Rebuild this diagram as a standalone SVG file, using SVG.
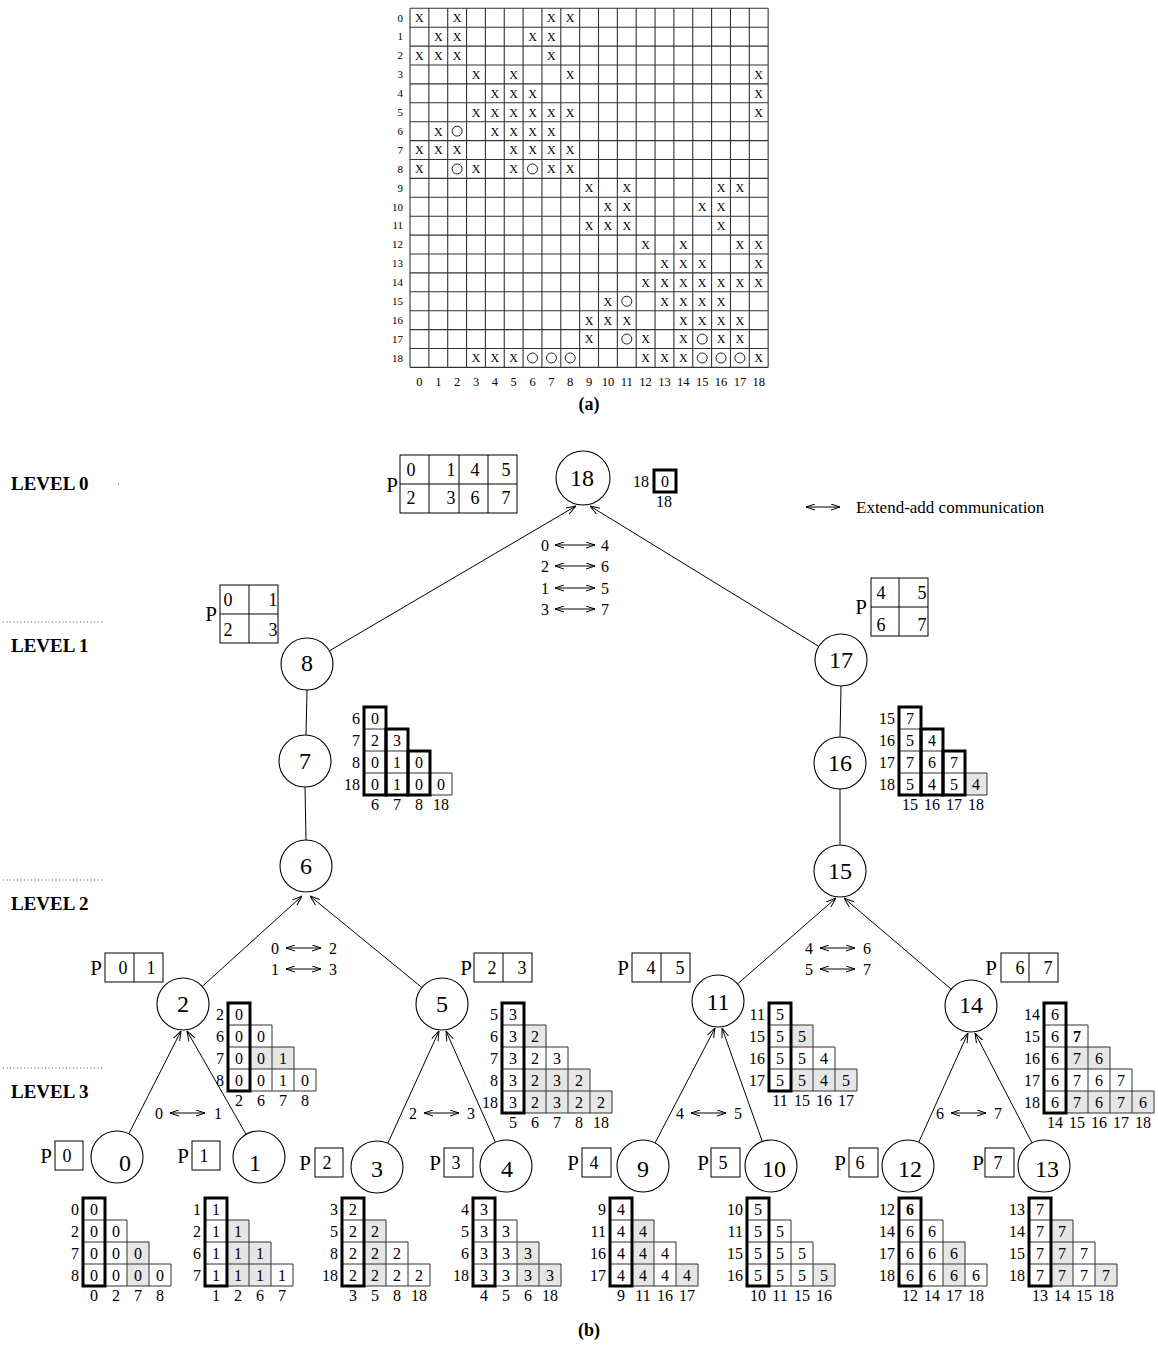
<svg xmlns="http://www.w3.org/2000/svg" xmlns:xlink="http://www.w3.org/1999/xlink" width="1158" height="1351" viewBox="0 0 1158 1351">
<style>
text{font-family:"Liberation Serif","Times New Roman",serif;fill:#000}
.lv{font-weight:bold;font-size:19px}
.cap{font-weight:bold;font-size:18px;text-anchor:middle}
.nd{font-size:24px;text-anchor:middle}
.c{font-size:16px;text-anchor:middle}
.rl{font-size:16px;text-anchor:end}
.pd{font-size:18px;text-anchor:middle}
.pp{font-size:21px;text-anchor:middle}
.x{font-family:"Liberation Sans",Arial,sans-serif;font-size:12px;text-anchor:middle;fill:#222}
.ml{font-size:11px;text-anchor:end}
.mc{font-size:12.5px;text-anchor:middle}
.grid{fill:none;stroke:#333;stroke-width:1.1}
.cell{fill:none;stroke:#333;stroke-width:1}
.g{fill:#e6e6e6}
.thick{fill:none;stroke:#000;stroke-width:3}
.node{fill:#fff;stroke:#000;stroke-width:1.1}
.box{fill:#fff;stroke:#000;stroke-width:1}
.edge{stroke:#000;stroke-width:1;fill:none}
.dot{stroke:#555;stroke-width:1;stroke-dasharray:1 2.5}
.oc{fill:none;stroke:#222;stroke-width:1}
</style>
<defs>
<marker id="ah" viewBox="0 0 10 8" refX="10" refY="4" markerWidth="10" markerHeight="8" markerUnits="userSpaceOnUse" orient="auto"><path d="M0,0.5L10,4L0,7.5" fill="none" stroke="#000" stroke-width="1"/></marker>
<marker id="dh" viewBox="0 0 9 7" refX="9" refY="3.5" markerWidth="9" markerHeight="7" markerUnits="userSpaceOnUse" orient="auto-start-reverse"><path d="M0,0.5L9,3.5L0,6.5" fill="none" stroke="#000" stroke-width="1"/></marker>
<path id="tri4" class="cell" d="M0,0H22M0,22H44M0,44H66M0,66H88M0,88H88M0,0V88M22,0V88M44,22V88M66,44V88M88,66V88"/>
<path id="tri5" class="cell" d="M0,0H22M0,22H44M0,44H66M0,66H88M0,88H110M0,110H110M0,0V110M22,0V110M44,22V110M66,44V110M88,66V110M110,88V110"/>
</defs>
<rect width="1158" height="1351" fill="#fff"/>

<!-- (a) matrix -->
<g id="matrix-a">
<path class="grid" d="M410,8.3V367.4M428.85,8.3V367.4M447.7,8.3V367.4M466.55,8.3V367.4M485.4,8.3V367.4M504.25,8.3V367.4M523.1,8.3V367.4M541.95,8.3V367.4M560.8,8.3V367.4M579.65,8.3V367.4M598.5,8.3V367.4M617.35,8.3V367.4M636.2,8.3V367.4M655.05,8.3V367.4M673.9,8.3V367.4M692.75,8.3V367.4M711.6,8.3V367.4M730.45,8.3V367.4M749.3,8.3V367.4M768.15,8.3V367.4M410,8.3H768.15M410,27.2H768.15M410,46.1H768.15M410,65H768.15M410,83.9H768.15M410,102.8H768.15M410,121.7H768.15M410,140.6H768.15M410,159.5H768.15M410,178.4H768.15M410,197.3H768.15M410,216.2H768.15M410,235.1H768.15M410,254H768.15M410,272.9H768.15M410,291.8H768.15M410,310.7H768.15M410,329.6H768.15M410,348.5H768.15M410,367.4H768.15"/>
<g class="ml">
<text x="403" y="21.5">0</text><text x="403" y="40.4">1</text><text x="403" y="59.3">2</text><text x="403" y="78.2">3</text><text x="403" y="97.1">4</text><text x="403" y="116">5</text><text x="403" y="134.9">6</text><text x="403" y="153.8">7</text><text x="403" y="172.7">8</text><text x="403" y="191.6">9</text><text x="403" y="210.5">10</text><text x="403" y="229.4">11</text><text x="403" y="248.3">12</text><text x="403" y="267.2">13</text><text x="403" y="286.1">14</text><text x="403" y="305">15</text><text x="403" y="323.9">16</text><text x="403" y="342.8">17</text><text x="403" y="361.7">18</text>
</g>
<g class="mc">
<text x="419.4" y="386">0</text><text x="438.3" y="386">1</text><text x="457.1" y="386">2</text><text x="476" y="386">3</text><text x="494.8" y="386">4</text><text x="513.7" y="386">5</text><text x="532.5" y="386">6</text><text x="551.4" y="386">7</text><text x="570.2" y="386">8</text><text x="589.1" y="386">9</text><text x="607.9" y="386">10</text><text x="626.8" y="386">11</text><text x="645.6" y="386">12</text><text x="664.5" y="386">13</text><text x="683.3" y="386">14</text><text x="702.2" y="386">15</text><text x="721" y="386">16</text><text x="739.9" y="386">17</text><text x="758.7" y="386">18</text>
</g>
<g class="x">
<g transform="translate(0,22.1)"><text x="419.4">X</text><text x="457.1">X</text><text x="551.4">X</text><text x="570.2">X</text></g>
<g transform="translate(0,41)"><text x="438.3">X</text><text x="457.1">X</text><text x="532.5">X</text><text x="551.4">X</text></g>
<g transform="translate(0,59.9)"><text x="419.4">X</text><text x="438.3">X</text><text x="457.1">X</text><text x="551.4">X</text></g>
<g transform="translate(0,78.8)"><text x="476">X</text><text x="513.7">X</text><text x="570.2">X</text><text x="758.7">X</text></g>
<g transform="translate(0,97.7)"><text x="494.8">X</text><text x="513.7">X</text><text x="532.5">X</text><text x="758.7">X</text></g>
<g transform="translate(0,116.6)"><text x="476">X</text><text x="494.8">X</text><text x="513.7">X</text><text x="532.5">X</text><text x="551.4">X</text><text x="570.2">X</text><text x="758.7">X</text></g>
<g transform="translate(0,135.5)"><text x="438.3">X</text><text x="494.8">X</text><text x="513.7">X</text><text x="532.5">X</text><text x="551.4">X</text></g>
<g transform="translate(0,154.4)"><text x="419.4">X</text><text x="438.3">X</text><text x="457.1">X</text><text x="513.7">X</text><text x="532.5">X</text><text x="551.4">X</text><text x="570.2">X</text></g>
<g transform="translate(0,173.3)"><text x="419.4">X</text><text x="476">X</text><text x="513.7">X</text><text x="551.4">X</text><text x="570.2">X</text></g>
<g transform="translate(0,192.2)"><text x="589.1">X</text><text x="626.8">X</text><text x="721">X</text><text x="739.9">X</text></g>
<g transform="translate(0,211.1)"><text x="607.9">X</text><text x="626.8">X</text><text x="702.2">X</text><text x="721">X</text></g>
<g transform="translate(0,230)"><text x="589.1">X</text><text x="607.9">X</text><text x="626.8">X</text><text x="721">X</text></g>
<g transform="translate(0,248.9)"><text x="645.6">X</text><text x="683.3">X</text><text x="739.9">X</text><text x="758.7">X</text></g>
<g transform="translate(0,267.8)"><text x="664.5">X</text><text x="683.3">X</text><text x="702.2">X</text><text x="758.7">X</text></g>
<g transform="translate(0,286.7)"><text x="645.6">X</text><text x="664.5">X</text><text x="683.3">X</text><text x="702.2">X</text><text x="721">X</text><text x="739.9">X</text><text x="758.7">X</text></g>
<g transform="translate(0,305.6)"><text x="607.9">X</text><text x="664.5">X</text><text x="683.3">X</text><text x="702.2">X</text><text x="721">X</text></g>
<g transform="translate(0,324.5)"><text x="589.1">X</text><text x="607.9">X</text><text x="626.8">X</text><text x="683.3">X</text><text x="702.2">X</text><text x="721">X</text><text x="739.9">X</text></g>
<g transform="translate(0,343.4)"><text x="589.1">X</text><text x="645.6">X</text><text x="683.3">X</text><text x="721">X</text><text x="739.9">X</text></g>
<g transform="translate(0,362.3)"><text x="476">X</text><text x="494.8">X</text><text x="513.7">X</text><text x="645.6">X</text><text x="664.5">X</text><text x="683.3">X</text><text x="758.7">X</text></g>
</g>
<g>
<circle class="oc" cx="457.1" cy="131.15" r="5"/>
<circle class="oc" cx="457.1" cy="168.95" r="5"/><circle class="oc" cx="532.5" cy="168.95" r="5"/>
<circle class="oc" cx="626.8" cy="301.25" r="5"/>
<circle class="oc" cx="626.8" cy="339.05" r="5"/><circle class="oc" cx="702.2" cy="339.05" r="5"/>
<circle class="oc" cx="532.5" cy="357.95" r="5"/><circle class="oc" cx="551.4" cy="357.95" r="5"/><circle class="oc" cx="570.2" cy="357.95" r="5"/>
<circle class="oc" cx="702.2" cy="357.95" r="5"/><circle class="oc" cx="721" cy="357.95" r="5"/><circle class="oc" cx="739.9" cy="357.95" r="5"/>
</g>
<text class="cap" x="589" y="410">(a)</text>
</g>

<!-- level labels -->
<g id="levels">
<text class="lv" x="11" y="490">LEVEL 0</text>
<text class="lv" x="11" y="652">LEVEL 1</text>
<text class="lv" x="11" y="910">LEVEL 2</text>
<text class="lv" x="11" y="1098">LEVEL 3</text>
<line class="dot" x1="3" y1="622" x2="103" y2="622"/>
<line class="dot" x1="3" y1="880" x2="103" y2="880"/>
<line class="dot" x1="3" y1="1068" x2="103" y2="1068"/>
<line class="dot" x1="118" y1="484" x2="120" y2="484"/>
</g>

<!-- connectors -->
<g id="connectors">
<line class="edge" x1="307" y1="690" x2="306" y2="735"/>
<line class="edge" x1="305" y1="787" x2="306" y2="840"/>
<line class="edge" x1="841" y1="686" x2="840" y2="737"/>
<line class="edge" x1="840" y1="789" x2="840" y2="845"/>
<line class="edge" x1="329.4" y1="650.8" x2="576" y2="506" marker-end="url(#ah)"/>
<line class="edge" x1="818.8" y1="646.4" x2="590" y2="506" marker-end="url(#ah)"/>
<line class="edge" x1="202.2" y1="986.5" x2="302" y2="896" marker-end="url(#ah)"/>
<line class="edge" x1="421.9" y1="987.5" x2="310" y2="896" marker-end="url(#ah)"/>
<line class="edge" x1="737.6" y1="983.9" x2="836" y2="898" marker-end="url(#ah)"/>
<line class="edge" x1="951.2" y1="989.2" x2="844" y2="898" marker-end="url(#ah)"/>
<line class="edge" x1="128.8" y1="1133.8" x2="181" y2="1031" marker-end="url(#ah)"/>
<line class="edge" x1="246.1" y1="1134.4" x2="187" y2="1031" marker-end="url(#ah)"/>
<line class="edge" x1="387.8" y1="1143.3" x2="439" y2="1031" marker-end="url(#ah)"/>
<line class="edge" x1="495.4" y1="1142.2" x2="446" y2="1031" marker-end="url(#ah)"/>
<line class="edge" x1="655" y1="1143" x2="715" y2="1028" marker-end="url(#ah)"/>
<line class="edge" x1="762.3" y1="1141.5" x2="722" y2="1028" marker-end="url(#ah)"/>
<line class="edge" x1="918.7" y1="1142.3" x2="968" y2="1033" marker-end="url(#ah)"/>
<line class="edge" x1="1032" y1="1142.9" x2="975" y2="1033" marker-end="url(#ah)"/>
</g>

<!-- nodes -->
<g id="n18"><circle class="node" cx="583" cy="478" r="27"/><text class="nd" x="582" y="486">18</text></g>
<g id="n8"><circle class="node" cx="307" cy="664" r="26"/><text class="nd" x="307" y="671">8</text></g>
<g id="n17"><circle class="node" cx="841" cy="660" r="26"/><text class="nd" x="841" y="668">17</text></g>
<g id="n7"><circle class="node" cx="305" cy="761" r="26"/><text class="nd" x="305" y="769">7</text></g>
<g id="n16"><circle class="node" cx="840" cy="763" r="26"/><text class="nd" x="840" y="771">16</text></g>
<g id="n6"><circle class="node" cx="306" cy="866" r="26"/><text class="nd" x="306" y="874">6</text></g>
<g id="n15"><circle class="node" cx="840" cy="871" r="26"/><text class="nd" x="840" y="879">15</text></g>
<g id="n2"><circle class="node" cx="183" cy="1004" r="26"/><text class="nd" x="183" y="1012">2</text></g>
<g id="n5"><circle class="node" cx="442" cy="1004" r="26"/><text class="nd" x="442" y="1012">5</text></g>
<g id="n11"><circle class="node" cx="718" cy="1001" r="26"/><text class="nd" x="718" y="1010">11</text></g>
<g id="n14"><circle class="node" cx="971" cy="1006" r="26"/><text class="nd" x="971" y="1013">14</text></g>
<g id="n0"><circle class="node" cx="117" cy="1157" r="26"/><text class="nd" x="125" y="1171">0</text></g>
<g id="n1"><circle class="node" cx="259" cy="1157" r="26"/><text class="nd" x="255" y="1171">1</text></g>
<g id="n3"><circle class="node" cx="377" cy="1167" r="26"/><text class="nd" x="377" y="1177">3</text></g>
<g id="n4"><circle class="node" cx="506" cy="1166" r="26"/><text class="nd" x="507" y="1177">4</text></g>
<g id="n9"><circle class="node" cx="643" cy="1166" r="26"/><text class="nd" x="643" y="1177">9</text></g>
<g id="n10"><circle class="node" cx="771" cy="1166" r="26"/><text class="nd" x="774" y="1177">10</text></g>
<g id="n12"><circle class="node" cx="908" cy="1166" r="26"/><text class="nd" x="910" y="1177">12</text></g>
<g id="n13"><circle class="node" cx="1044" cy="1166" r="26"/><text class="nd" x="1047" y="1177">13</text></g>

<!-- processor grids -->
<g id="p18">
<rect class="box" x="400" y="455" width="117" height="58"/>
<path class="edge" d="M429,455V513M459,455V513M488,455V513M400,484H517"/>
<text class="pp" x="392" y="492">P</text>
<text class="pd" x="411" y="476">0</text><text class="pd" x="451" y="476">1</text><text class="pd" x="475" y="476">4</text><text class="pd" x="506" y="476">5</text>
<text class="pd" x="411" y="504">2</text><text class="pd" x="451" y="504">3</text><text class="pd" x="475" y="504">6</text><text class="pd" x="506" y="504">7</text>
</g>
<g id="p8">
<rect class="box" x="220" y="585" width="58" height="58"/>
<path class="edge" d="M249,585V643M220,614H278"/>
<text class="pp" x="211" y="621">P</text>
<text class="pd" x="228" y="606">0</text><text class="pd" x="273" y="606">1</text>
<text class="pd" x="228" y="636">2</text><text class="pd" x="273" y="636">3</text>
</g>
<g id="p17">
<rect class="box" x="871" y="578" width="57" height="58"/>
<path class="edge" d="M899,578V636M871,607H928"/>
<text class="pp" x="861" y="614">P</text>
<text class="pd" x="881" y="599">4</text><text class="pd" x="922" y="599">5</text>
<text class="pd" x="881" y="631">6</text><text class="pd" x="922" y="631">7</text>
</g>
<g id="p2">
<rect class="box" x="105" y="953" width="58" height="29"/><path class="edge" d="M134,953V982"/>
<text class="pp" x="96" y="975">P</text><text class="pd" x="123" y="974">0</text><text class="pd" x="151" y="974">1</text>
</g>
<g id="p5">
<rect class="box" x="474" y="953" width="58" height="29"/><path class="edge" d="M503,953V982"/>
<text class="pp" x="466" y="975">P</text><text class="pd" x="492" y="974">2</text><text class="pd" x="522" y="974">3</text>
</g>
<g id="p11">
<rect class="box" x="632" y="953" width="58" height="29"/><path class="edge" d="M661,953V982"/>
<text class="pp" x="623" y="975">P</text><text class="pd" x="651" y="974">4</text><text class="pd" x="680" y="974">5</text>
</g>
<g id="p14">
<rect class="box" x="1001" y="953" width="57" height="29"/><path class="edge" d="M1029,953V982"/>
<text class="pp" x="991" y="975">P</text><text class="pd" x="1020" y="974">6</text><text class="pd" x="1048" y="974">7</text>
</g>
<g id="p0"><rect class="box" x="55" y="1141" width="28" height="29"/><text class="pp" x="46" y="1163">P</text><text class="pd" x="67" y="1162">0</text></g>
<g id="p1"><rect class="box" x="192" y="1141" width="28" height="29"/><text class="pp" x="183" y="1163">P</text><text class="pd" x="204" y="1162">1</text></g>
<g id="p3"><rect class="box" x="315" y="1148" width="28" height="29"/><text class="pp" x="305" y="1170">P</text><text class="pd" x="327" y="1169">2</text></g>
<g id="p4"><rect class="box" x="444" y="1148" width="29" height="29"/><text class="pp" x="435" y="1170">P</text><text class="pd" x="456" y="1169">3</text></g>
<g id="p9"><rect class="box" x="582" y="1148" width="29" height="29"/><text class="pp" x="573" y="1170">P</text><text class="pd" x="594" y="1169">4</text></g>
<g id="p10"><rect class="box" x="711" y="1148" width="29" height="29"/><text class="pp" x="703" y="1170">P</text><text class="pd" x="723" y="1169">5</text></g>
<g id="p12"><rect class="box" x="849" y="1148" width="29" height="29"/><text class="pp" x="840" y="1170">P</text><text class="pd" x="860" y="1169">6</text></g>
<g id="p13"><rect class="box" x="985" y="1148" width="29" height="29"/><text class="pp" x="978" y="1170">P</text><text class="pd" x="998" y="1169">7</text></g>

<!-- root update matrix -->
<g id="m18">
<rect class="thick" x="654" y="470" width="22" height="22"/>
<text class="c" x="665" y="486.5">0</text>
<text class="rl" x="649" y="487">18</text>
<text class="c" x="664" y="507">18</text>
</g>

<!-- communication labels -->
<g id="comm">
<text class="c" x="545" y="550.5">0</text><line class="edge" x1="555" y1="545" x2="595" y2="545" marker-start="url(#dh)" marker-end="url(#dh)"/><text class="c" x="605" y="550.5">4</text>
<text class="c" x="545" y="571.5">2</text><line class="edge" x1="555" y1="566" x2="595" y2="566" marker-start="url(#dh)" marker-end="url(#dh)"/><text class="c" x="605" y="571.5">6</text>
<text class="c" x="545" y="593.5">1</text><line class="edge" x1="555" y1="588" x2="595" y2="588" marker-start="url(#dh)" marker-end="url(#dh)"/><text class="c" x="605" y="593.5">5</text>
<text class="c" x="545" y="614.5">3</text><line class="edge" x1="555" y1="609" x2="595" y2="609" marker-start="url(#dh)" marker-end="url(#dh)"/><text class="c" x="605" y="614.5">7</text>
<text class="c" x="275" y="953.5">0</text><line class="edge" x1="286" y1="948" x2="321" y2="948" marker-start="url(#dh)" marker-end="url(#dh)"/><text class="c" x="333" y="953.5">2</text>
<text class="c" x="275" y="974.5">1</text><line class="edge" x1="286" y1="969" x2="321" y2="969" marker-start="url(#dh)" marker-end="url(#dh)"/><text class="c" x="333" y="974.5">3</text>
<text class="c" x="809" y="953.5">4</text><line class="edge" x1="820" y1="948" x2="855" y2="948" marker-start="url(#dh)" marker-end="url(#dh)"/><text class="c" x="867" y="953.5">6</text>
<text class="c" x="809" y="974.5">5</text><line class="edge" x1="820" y1="969" x2="855" y2="969" marker-start="url(#dh)" marker-end="url(#dh)"/><text class="c" x="867" y="974.5">7</text>
<text class="c" x="159" y="1118.5">0</text><line class="edge" x1="170" y1="1113" x2="205" y2="1113" marker-start="url(#dh)" marker-end="url(#dh)"/><text class="c" x="218" y="1118.5">1</text>
<text class="c" x="413" y="1118.5">2</text><line class="edge" x1="424" y1="1113" x2="459" y2="1113" marker-start="url(#dh)" marker-end="url(#dh)"/><text class="c" x="471" y="1118.5">3</text>
<text class="c" x="680" y="1118.5">4</text><line class="edge" x1="691" y1="1113" x2="726" y2="1113" marker-start="url(#dh)" marker-end="url(#dh)"/><text class="c" x="738" y="1118.5">5</text>
<text class="c" x="940" y="1118.5">6</text><line class="edge" x1="951" y1="1113" x2="986" y2="1113" marker-start="url(#dh)" marker-end="url(#dh)"/><text class="c" x="998" y="1118.5">7</text>
</g>

<!-- legend -->
<g id="legend">
<line class="edge" x1="806" y1="507" x2="840" y2="507" marker-start="url(#dh)" marker-end="url(#dh)"/>
<text x="856" y="513" style="font-size:17px">Extend-add communication</text>
</g>

<!-- update matrices -->
<g id="m7" transform="translate(364,707)">
<use href="#tri4"/>
<rect class="thick" x="0" y="0" width="22" height="88"/><rect class="thick" x="22" y="22" width="22" height="66"/><rect class="thick" x="44" y="44" width="22" height="44"/>
<text class="rl" x="-4" y="16.5">6</text><text class="rl" x="-4" y="38.5">7</text><text class="rl" x="-4" y="60.5">8</text><text class="rl" x="-4" y="82.5">18</text>
<text class="c" x="11" y="16.5">0</text>
<text class="c" x="11" y="38.5">2</text><text class="c" x="33" y="38.5">3</text>
<text class="c" x="11" y="60.5">0</text><text class="c" x="33" y="60.5">1</text><text class="c" x="55" y="60.5">0</text>
<text class="c" x="11" y="82.5">0</text><text class="c" x="33" y="82.5">1</text><text class="c" x="55" y="82.5">0</text><text class="c" x="77" y="82.5">0</text>
<text class="c" x="11" y="103">6</text><text class="c" x="33" y="103">7</text><text class="c" x="55" y="103">8</text><text class="c" x="77" y="103">18</text>
</g>
<g id="m16" transform="translate(899,707)">
<rect class="g" x="66" y="66" width="22" height="22"/>
<use href="#tri4"/>
<rect class="thick" x="0" y="0" width="22" height="88"/><rect class="thick" x="22" y="22" width="22" height="66"/><rect class="thick" x="44" y="44" width="22" height="44"/>
<text class="rl" x="-4" y="16.5">15</text><text class="rl" x="-4" y="38.5">16</text><text class="rl" x="-4" y="60.5">17</text><text class="rl" x="-4" y="82.5">18</text>
<text class="c" x="11" y="16.5">7</text>
<text class="c" x="11" y="38.5">5</text><text class="c" x="33" y="38.5">4</text>
<text class="c" x="11" y="60.5">7</text><text class="c" x="33" y="60.5">6</text><text class="c" x="55" y="60.5">7</text>
<text class="c" x="11" y="82.5">5</text><text class="c" x="33" y="82.5">4</text><text class="c" x="55" y="82.5">5</text><text class="c" x="77" y="82.5">4</text>
<text class="c" x="11" y="103">15</text><text class="c" x="33" y="103">16</text><text class="c" x="55" y="103">17</text><text class="c" x="77" y="103">18</text>
</g>
<g id="m2" transform="translate(228,1003)">
<rect class="g" x="22" y="44" width="44" height="22"/>
<use href="#tri4"/>
<rect class="thick" x="0" y="0" width="22" height="88"/>
<text class="rl" x="-4" y="16.5">2</text><text class="rl" x="-4" y="38.5">6</text><text class="rl" x="-4" y="60.5">7</text><text class="rl" x="-4" y="82.5">8</text>
<text class="c" x="11" y="16.5">0</text>
<text class="c" x="11" y="38.5">0</text><text class="c" x="33" y="38.5">0</text>
<text class="c" x="11" y="60.5">0</text><text class="c" x="33" y="60.5">0</text><text class="c" x="55" y="60.5">1</text>
<text class="c" x="11" y="82.5">0</text><text class="c" x="33" y="82.5">0</text><text class="c" x="55" y="82.5">1</text><text class="c" x="77" y="82.5">0</text>
<text class="c" x="11" y="103">2</text><text class="c" x="33" y="103">6</text><text class="c" x="55" y="103">7</text><text class="c" x="77" y="103">8</text>
</g>
<g id="m5" transform="translate(502,1003)">
<rect class="g" x="22" y="22" width="22" height="22"/><rect class="g" x="22" y="66" width="66" height="22"/><rect class="g" x="22" y="88" width="88" height="22"/>
<use href="#tri5"/>
<rect class="thick" x="0" y="0" width="22" height="110"/>
<text class="rl" x="-4" y="16.5">5</text><text class="rl" x="-4" y="38.5">6</text><text class="rl" x="-4" y="60.5">7</text><text class="rl" x="-4" y="82.5">8</text><text class="rl" x="-4" y="104.5">18</text>
<text class="c" x="11" y="16.5">3</text>
<text class="c" x="11" y="38.5">3</text><text class="c" x="33" y="38.5">2</text>
<text class="c" x="11" y="60.5">3</text><text class="c" x="33" y="60.5">2</text><text class="c" x="55" y="60.5">3</text>
<text class="c" x="11" y="82.5">3</text><text class="c" x="33" y="82.5">2</text><text class="c" x="55" y="82.5">3</text><text class="c" x="77" y="82.5">2</text>
<text class="c" x="11" y="104.5">3</text><text class="c" x="33" y="104.5">2</text><text class="c" x="55" y="104.5">3</text><text class="c" x="77" y="104.5">2</text><text class="c" x="99" y="104.5">2</text>
<text class="c" x="11" y="125">5</text><text class="c" x="33" y="125">6</text><text class="c" x="55" y="125">7</text><text class="c" x="77" y="125">8</text><text class="c" x="99" y="125">18</text>
</g>
<g id="m11" transform="translate(769,1003)">
<rect class="g" x="22" y="22" width="22" height="22"/><rect class="g" x="22" y="66" width="66" height="22"/>
<use href="#tri4"/>
<rect class="thick" x="0" y="0" width="22" height="88"/>
<text class="rl" x="-4" y="16.5">11</text><text class="rl" x="-4" y="38.5">15</text><text class="rl" x="-4" y="60.5">16</text><text class="rl" x="-4" y="82.5">17</text>
<text class="c" x="11" y="16.5">5</text>
<text class="c" x="11" y="38.5">5</text><text class="c" x="33" y="38.5">5</text>
<text class="c" x="11" y="60.5">5</text><text class="c" x="33" y="60.5">5</text><text class="c" x="55" y="60.5">4</text>
<text class="c" x="11" y="82.5">5</text><text class="c" x="33" y="82.5">5</text><text class="c" x="55" y="82.5">4</text><text class="c" x="77" y="82.5">5</text>
<text class="c" x="11" y="103">11</text><text class="c" x="33" y="103">15</text><text class="c" x="55" y="103">16</text><text class="c" x="77" y="103">17</text>
</g>
<g id="m14" transform="translate(1044,1003)">
<rect class="g" x="22" y="44" width="44" height="22"/><rect class="g" x="22" y="88" width="88" height="22"/>
<use href="#tri5"/>
<rect class="thick" x="0" y="0" width="22" height="110"/>
<text class="rl" x="-4" y="16.5">14</text><text class="rl" x="-4" y="38.5">15</text><text class="rl" x="-4" y="60.5">16</text><text class="rl" x="-4" y="82.5">17</text><text class="rl" x="-4" y="104.5">18</text>
<text class="c" x="11" y="16.5">6</text>
<text class="c" x="11" y="38.5">6</text><text class="c" x="33" y="38.5" font-weight="bold">7</text>
<text class="c" x="11" y="60.5">6</text><text class="c" x="33" y="60.5">7</text><text class="c" x="55" y="60.5">6</text>
<text class="c" x="11" y="82.5">6</text><text class="c" x="33" y="82.5">7</text><text class="c" x="55" y="82.5">6</text><text class="c" x="77" y="82.5">7</text>
<text class="c" x="11" y="104.5">6</text><text class="c" x="33" y="104.5">7</text><text class="c" x="55" y="104.5">6</text><text class="c" x="77" y="104.5">7</text><text class="c" x="99" y="104.5">6</text>
<text class="c" x="11" y="125">14</text><text class="c" x="33" y="125">15</text><text class="c" x="55" y="125">16</text><text class="c" x="77" y="125">17</text><text class="c" x="99" y="125">18</text>
</g>
<g id="m0" transform="translate(83,1198)">
<rect class="g" x="44" y="44" width="22" height="44"/>
<use href="#tri4"/>
<rect class="thick" x="0" y="0" width="22" height="88"/>
<text class="rl" x="-4" y="16.5">0</text><text class="rl" x="-4" y="38.5">2</text><text class="rl" x="-4" y="60.5">7</text><text class="rl" x="-4" y="82.5">8</text>
<text class="c" x="11" y="16.5">0</text>
<text class="c" x="11" y="38.5">0</text><text class="c" x="33" y="38.5">0</text>
<text class="c" x="11" y="60.5">0</text><text class="c" x="33" y="60.5">0</text><text class="c" x="55" y="60.5">0</text>
<text class="c" x="11" y="82.5">0</text><text class="c" x="33" y="82.5">0</text><text class="c" x="55" y="82.5">0</text><text class="c" x="77" y="82.5">0</text>
<text class="c" x="11" y="103">0</text><text class="c" x="33" y="103">2</text><text class="c" x="55" y="103">7</text><text class="c" x="77" y="103">8</text>
</g>
<g id="m1" transform="translate(205,1198)">
<rect class="g" x="22" y="22" width="22" height="66"/><rect class="g" x="44" y="44" width="22" height="44"/>
<use href="#tri4"/>
<rect class="thick" x="0" y="0" width="22" height="88"/>
<text class="rl" x="-4" y="16.5">1</text><text class="rl" x="-4" y="38.5">2</text><text class="rl" x="-4" y="60.5">6</text><text class="rl" x="-4" y="82.5">7</text>
<text class="c" x="11" y="16.5">1</text>
<text class="c" x="11" y="38.5">1</text><text class="c" x="33" y="38.5">1</text>
<text class="c" x="11" y="60.5">1</text><text class="c" x="33" y="60.5">1</text><text class="c" x="55" y="60.5">1</text>
<text class="c" x="11" y="82.5">1</text><text class="c" x="33" y="82.5">1</text><text class="c" x="55" y="82.5">1</text><text class="c" x="77" y="82.5">1</text>
<text class="c" x="11" y="103">1</text><text class="c" x="33" y="103">2</text><text class="c" x="55" y="103">6</text><text class="c" x="77" y="103">7</text>
</g>
<g id="m3" transform="translate(342,1198)">
<rect class="g" x="22" y="22" width="22" height="66"/>
<use href="#tri4"/>
<rect class="thick" x="0" y="0" width="22" height="88"/>
<text class="rl" x="-4" y="16.5">3</text><text class="rl" x="-4" y="38.5">5</text><text class="rl" x="-4" y="60.5">8</text><text class="rl" x="-4" y="82.5">18</text>
<text class="c" x="11" y="16.5">2</text>
<text class="c" x="11" y="38.5">2</text><text class="c" x="33" y="38.5">2</text>
<text class="c" x="11" y="60.5">2</text><text class="c" x="33" y="60.5">2</text><text class="c" x="55" y="60.5">2</text>
<text class="c" x="11" y="82.5">2</text><text class="c" x="33" y="82.5">2</text><text class="c" x="55" y="82.5">2</text><text class="c" x="77" y="82.5">2</text>
<text class="c" x="11" y="103">3</text><text class="c" x="33" y="103">5</text><text class="c" x="55" y="103">8</text><text class="c" x="77" y="103">18</text>
</g>
<g id="m4" transform="translate(473,1198)">
<rect class="g" x="44" y="44" width="22" height="44"/><rect class="g" x="66" y="66" width="22" height="22"/>
<use href="#tri4"/>
<rect class="thick" x="0" y="0" width="22" height="88"/>
<text class="rl" x="-4" y="16.5">4</text><text class="rl" x="-4" y="38.5">5</text><text class="rl" x="-4" y="60.5">6</text><text class="rl" x="-4" y="82.5">18</text>
<text class="c" x="11" y="16.5">3</text>
<text class="c" x="11" y="38.5">3</text><text class="c" x="33" y="38.5">3</text>
<text class="c" x="11" y="60.5">3</text><text class="c" x="33" y="60.5">3</text><text class="c" x="55" y="60.5">3</text>
<text class="c" x="11" y="82.5">3</text><text class="c" x="33" y="82.5">3</text><text class="c" x="55" y="82.5">3</text><text class="c" x="77" y="82.5">3</text>
<text class="c" x="11" y="103">4</text><text class="c" x="33" y="103">5</text><text class="c" x="55" y="103">6</text><text class="c" x="77" y="103">18</text>
</g>
<g id="m9" transform="translate(610,1198)">
<rect class="g" x="22" y="22" width="22" height="66"/><rect class="g" x="66" y="66" width="22" height="22"/>
<use href="#tri4"/>
<rect class="thick" x="0" y="0" width="22" height="88"/>
<text class="rl" x="-4" y="16.5">9</text><text class="rl" x="-4" y="38.5">11</text><text class="rl" x="-4" y="60.5">16</text><text class="rl" x="-4" y="82.5">17</text>
<text class="c" x="11" y="16.5">4</text>
<text class="c" x="11" y="38.5">4</text><text class="c" x="33" y="38.5">4</text>
<text class="c" x="11" y="60.5">4</text><text class="c" x="33" y="60.5">4</text><text class="c" x="55" y="60.5">4</text>
<text class="c" x="11" y="82.5">4</text><text class="c" x="33" y="82.5">4</text><text class="c" x="55" y="82.5">4</text><text class="c" x="77" y="82.5">4</text>
<text class="c" x="11" y="103">9</text><text class="c" x="33" y="103">11</text><text class="c" x="55" y="103">16</text><text class="c" x="77" y="103">17</text>
</g>
<g id="m10" transform="translate(747,1198)">
<rect class="g" x="66" y="66" width="22" height="22"/>
<use href="#tri4"/>
<rect class="thick" x="0" y="0" width="22" height="88"/>
<text class="rl" x="-4" y="16.5">10</text><text class="rl" x="-4" y="38.5">11</text><text class="rl" x="-4" y="60.5">15</text><text class="rl" x="-4" y="82.5">16</text>
<text class="c" x="11" y="16.5">5</text>
<text class="c" x="11" y="38.5">5</text><text class="c" x="33" y="38.5">5</text>
<text class="c" x="11" y="60.5">5</text><text class="c" x="33" y="60.5">5</text><text class="c" x="55" y="60.5">5</text>
<text class="c" x="11" y="82.5">5</text><text class="c" x="33" y="82.5">5</text><text class="c" x="55" y="82.5">5</text><text class="c" x="77" y="82.5">5</text>
<text class="c" x="11" y="103">10</text><text class="c" x="33" y="103">11</text><text class="c" x="55" y="103">15</text><text class="c" x="77" y="103">16</text>
</g>
<g id="m12" transform="translate(899,1198)">
<rect class="g" x="44" y="44" width="22" height="44"/>
<use href="#tri4"/>
<rect class="thick" x="0" y="0" width="22" height="88"/>
<text class="rl" x="-4" y="16.5">12</text><text class="rl" x="-4" y="38.5">14</text><text class="rl" x="-4" y="60.5">17</text><text class="rl" x="-4" y="82.5">18</text>
<text class="c" x="11" y="16.5" font-weight="bold">6</text>
<text class="c" x="11" y="38.5">6</text><text class="c" x="33" y="38.5">6</text>
<text class="c" x="11" y="60.5">6</text><text class="c" x="33" y="60.5">6</text><text class="c" x="55" y="60.5">6</text>
<text class="c" x="11" y="82.5">6</text><text class="c" x="33" y="82.5">6</text><text class="c" x="55" y="82.5">6</text><text class="c" x="77" y="82.5">6</text>
<text class="c" x="11" y="103">12</text><text class="c" x="33" y="103">14</text><text class="c" x="55" y="103">17</text><text class="c" x="77" y="103">18</text>
</g>
<g id="m13" transform="translate(1029,1198)">
<rect class="g" x="22" y="22" width="22" height="66"/><rect class="g" x="66" y="66" width="22" height="22"/>
<use href="#tri4"/>
<rect class="thick" x="0" y="0" width="22" height="88"/>
<text class="rl" x="-4" y="16.5">13</text><text class="rl" x="-4" y="38.5">14</text><text class="rl" x="-4" y="60.5">15</text><text class="rl" x="-4" y="82.5">18</text>
<text class="c" x="11" y="16.5">7</text>
<text class="c" x="11" y="38.5">7</text><text class="c" x="33" y="38.5">7</text>
<text class="c" x="11" y="60.5">7</text><text class="c" x="33" y="60.5">7</text><text class="c" x="55" y="60.5">7</text>
<text class="c" x="11" y="82.5">7</text><text class="c" x="33" y="82.5">7</text><text class="c" x="55" y="82.5">7</text><text class="c" x="77" y="82.5">7</text>
<text class="c" x="11" y="103">13</text><text class="c" x="33" y="103">14</text><text class="c" x="55" y="103">15</text><text class="c" x="77" y="103">18</text>
</g>

<text class="cap" x="589" y="1336">(b)</text>
</svg>
